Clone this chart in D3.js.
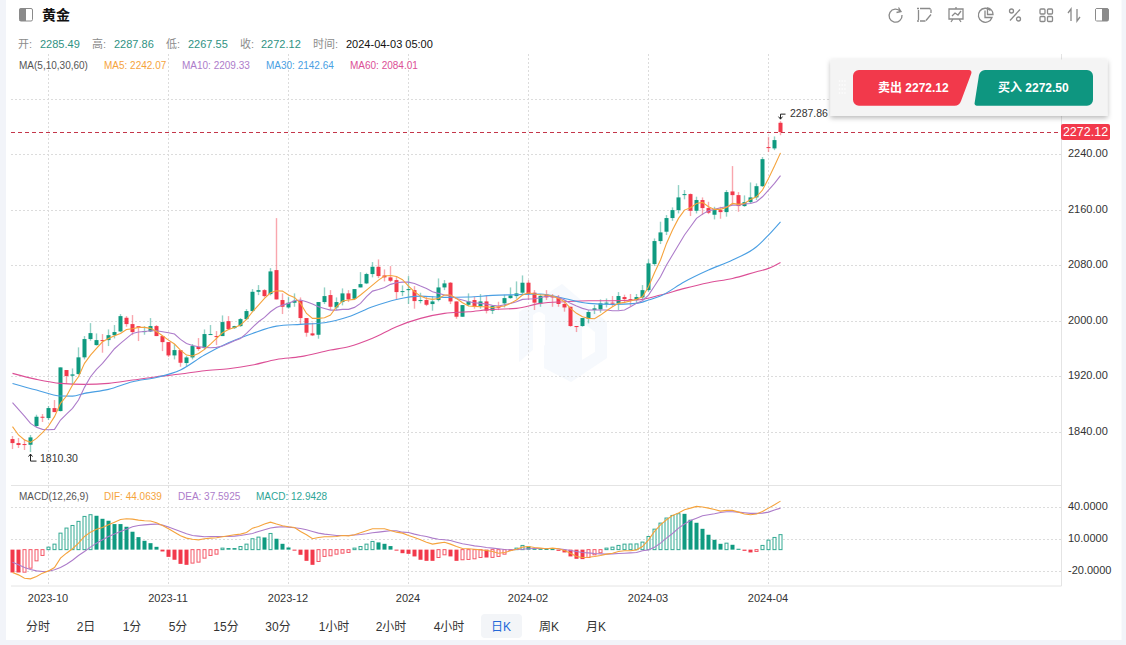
<!DOCTYPE html>
<html><head><meta charset="utf-8">
<script src="https://d3js.org/d3.v7.min.js"></script>
<style>
html,body{margin:0;padding:0;background:#f2f4f9;overflow:hidden}
svg{display:block}
text{font-family:"Liberation Sans","Noto Sans CJK SC",sans-serif}
</style></head><body><div id="chart"></div>
<script>
const candleOpen=[1829.1,1823.3,1821.9,1820.9,1847.9,1861.3,1859.4,1873.8,1869.5,1928.7,
1920.5,1922.9,1947,1973.4,1964.7,1971.9,1971.9,1979,1984.4,2004.1,
1995,1992,1983.5,1984.4,1992.1,1977.7,1969,1949.8,1957.5,1938.8,
1946.9,1962.3,1960.4,1979.6,1977.7,1977.7,1999.3,1989.2,1992.1,2002.2,
2013.8,2041.6,2044,2038.3,2072.9,2029.7,2019,2025.8,2028.7,2003.7,
1981.6,1979.6,2026.8,2036.9,2019,2026.8,2039.3,2031.6,2047.9,2053.7,
2067.2,2077.7,2065.2,2062.4,2058.5,2041.7,2044,2044,2028.2,2029.7,
2023.9,2029.7,2047.9,2054.7,2027.7,2005.6,2022.9,2029.7,2021,2027.7,
2014.3,2020,2024.9,2032.5,2035.4,2040.3,2054.7,2040.3,2024.9,2037.4,
2035.5,2033.5,2024,2020,1992.2,1992.2,2002.8,2015.3,2016.2,2024.9,
2025.9,2024.9,2034,2031,2029.7,2033.5,2044,2081.6,2114.8,2128.3,
2148,2159.5,2181.1,2182.6,2158.5,2174,2162.4,2152.8,2159.5,2156.6,
2186.4,2181.1,2165.3,2171,2177.8,2194,2250.4,2248.5,2285.49];
const candleClose=[1823.3,1820.5,1820.9,1831.5,1861.3,1859.9,1873.8,1868,1932.5,1920,
1922.4,1947,1973.4,1982,1971.9,1970.5,1979,1983.5,2006.5,1995,
1983.5,1990,1984.9,1992.1,1977.7,1969,1949.8,1957.5,1939.2,1946.9,
1963.3,1959,1980.6,1980.6,1976.7,1997.9,1987.8,1992.1,2002.2,2013.8,
2041.6,2044,2035.4,2071,2030.6,2020,2025.8,2028.7,2003.7,1982.5,
1978.7,2026.8,2035.4,2020,2026.8,2039.3,2030.6,2045.5,2052.7,2067.2,
2077.7,2064.3,2062.4,2057.5,2041.2,2042.6,2045.5,2028.2,2029.7,2022.9,
2027.7,2047.9,2053.7,2027.7,2005.6,2022.4,2027.7,2020,2027.7,2014.3,
2021,2018.6,2032.5,2036.4,2039.3,2054.7,2038.4,2025.9,2035.5,2033.5,
2033.5,2024,2019,1992.2,1990.7,2003.7,2012.4,2017.7,2024.9,2025.9,
2024.9,2035.5,2031,2029.7,2034,2044,2082.6,2114.8,2127.3,2148,
2159.5,2177.8,2182.6,2158.5,2174,2162.4,2155.7,2159.5,2156.6,2185.5,
2181.1,2165.3,2171,2177.8,2194,2233,2249,2260.5,2272.12];
const candleHigh=[1833.5,1830.6,1829.1,1834.9,1864.2,1865.2,1876.7,1885.4,1932.5,1928.7,
1931,1961.4,1977.7,1996.4,1981.5,1980.6,1987.3,1993.6,2009.4,2006.5,
2008,1992,1992,2003.7,1993.6,1977.7,1969,1966.2,1957.5,1948.9,
1966.2,1974.8,1987.3,1993.6,1984.9,2007.5,2006.5,1992.5,2003.7,2016.6,
2045.5,2051.3,2045.5,2075.8,2147.9,2039.3,2034.5,2039.3,2033.5,2003.7,
1997,2026.8,2047.9,2044,2033.5,2046.5,2044,2045.5,2070,2069,
2084.5,2088.3,2073.9,2078.7,2064.3,2050.8,2064.3,2049.8,2040.2,2035.4,
2035.4,2060.9,2058.5,2055.6,2027.7,2022.4,2039.3,2034.5,2038.3,2036.4,
2022,2027.2,2037.4,2047.9,2056.6,2065.2,2058.5,2044,2038.4,2044,
2038.4,2037,2029.7,2020,1992.2,2003.7,2015.3,2022.5,2030.7,2032,
2035.5,2041.2,2037.4,2038.4,2038.4,2051.3,2088.4,2118.6,2142.7,2152.3,
2163.4,2195.6,2188.4,2183.5,2178.8,2177.8,2171.5,2164.3,2164.3,2188.4,
2223,2185.5,2180.7,2199.4,2198,2236,2265.3,2265.8,2287.86];
const candleLow=[1814.7,1816.2,1813.3,1810.3,1846,1853.7,1856.5,1868,1869,1908.5,
1907,1922,1944,1971,1964,1953.7,1963.3,1974.3,1983.5,1991.2,
1979,1970.5,1979.6,1983.5,1977.7,1956,1947.4,1944,1933.4,1933.4,
1944,1956.5,1957.5,1979.6,1964.7,1977.7,1986.4,1988,1991,2000.8,
2012.3,2036.8,2033.5,2036.4,2030.6,2009.5,2017.2,2020,1995,1976.8,
1977.7,1973.9,2023.9,2015.2,2015.2,2022,2026.8,2029.7,2047.9,2052.7,
2062.4,2061.4,2056.6,2055.6,2030.6,2035.4,2023.9,2017.2,2024.9,2021,
2014.3,2027.7,2044,2023.9,2002.7,2005.6,2021,2017.2,2017.2,2010.4,
2009.5,2015.2,2019,2031.6,2031.6,2037.4,2029.7,2015.3,2020,2029.7,
2020,2020,2012.9,1991.2,1983.5,1991.2,1996,2009.5,2011.4,2019,
2020,2015.3,2024.9,2021,2024.9,2029.7,2041.7,2078.7,2110.5,2123.5,
2144,2154.7,2175,2150.9,2154.7,2152.3,2153.7,2146,2147,2150,
2166.7,2157,2164.3,2169,2174,2193,2243.2,2246,2267.55];
const ma5=[1847,1835,1827.7,1824.3,1830,1838.3,1847.9,1861.4,1880.6,1891.2,
1907,1919,1938.3,1950.3,1959.9,1969.5,1974.3,1978.2,1981.5,1987.3,
1988.3,1990.2,1990.2,1988.8,1984.4,1978.2,1971.9,1966.2,1957.5,1950.3,
1948.9,1952.7,1958.5,1966.2,1974.3,1982.5,1987.3,1990.2,1993.6,2001.7,
2012.8,2022.4,2032,2040.2,2043.1,2042.6,2036.9,2033.5,2024.9,2010.4,
2003.2,2003.2,2004.2,2008,2020,2028.2,2029.7,2030.6,2037,2044,
2051.3,2058.5,2064.3,2065.2,2063.8,2059,2049.8,2041.7,2035.4,2032,
2030.6,2032,2036.9,2036.9,2032,2025.8,2021,2020.5,2020,2020,
2019,2020,2021,2024.9,2029.7,2036.9,2040.2,2038.3,2036.9,2036.9,
2035.5,2032.1,2027.3,2017.7,2010.5,2005.6,2003.3,2002.8,2008,2014.3,
2020,2024.9,2026.3,2028.3,2030.7,2034.5,2048.9,2069.1,2087.4,2111.4,
2130.7,2147.5,2159.5,2162.9,2169.1,2170.6,2164.3,2160.5,2160.5,2163.4,
2169.1,2167.7,2169.1,2174.9,2178.7,2188.4,2205.2,2223,2242.07];
const ma10=[1881.5,1871.9,1862.3,1851.7,1846,1843.1,1842.6,1843.1,1856.5,1865.2,
1873.4,1885.4,1903.7,1919,1929.6,1938.3,1948.9,1959.4,1967.1,1974.3,
1981.5,1983.5,1984.4,1985.4,1985.4,1983.9,1982.5,1980.6,1972.9,1967.1,
1964.2,1962.3,1961.4,1960.9,1961.4,1963.3,1967.1,1971,1974.3,1981.5,
1990.2,1998.4,2004.6,2012.8,2019,2022.4,2024.9,2028.7,2029.7,2027.3,
2023.9,2020,2017.6,2015.2,2015.2,2016.2,2016.2,2019.1,2024.9,2034.5,
2042.6,2045,2047.9,2052.3,2054.7,2055.6,2055.6,2053.7,2049.8,2046.5,
2041.7,2039.3,2036.9,2035.9,2032,2029.7,2027.3,2025.8,2024.9,2023.9,
2022,2021,2022.9,2024.9,2027.3,2030.6,2031.1,2031.5,2033,2035.5,
2034.5,2033.5,2029.7,2024.9,2021,2017.7,2015.3,2015.3,2015.3,2015.3,
2014.3,2014.3,2015.3,2020,2024.9,2028.7,2036.9,2049.9,2063.4,2080.2,
2094.6,2109,2123.5,2135.5,2147.5,2153.7,2158.6,2160.5,2162.9,2164.3,
2166.7,2166.7,2168.2,2169.1,2171.5,2178.7,2188.4,2198,2209.33];
const ma30Idx=[0,4,8,10,12,16,20,24,28,32,36,40,44,48,52,56,60,64,68,72,76,80,84,88,92,96,100,104,106,108,112,116,120,124,126,128];
const ma30=[1909.4,1899.8,1891.2,1891,1895,1900.8,1911.8,1918,1928.7,1950.3,1968,1981.5,1992,1994.6,1997,2005.6,2020,2030.6,2035.4,2033.5,2034,2036.4,2037.4,2038.4,2032,2024.9,2023.4,2024.9,2029.7,2035.5,2056.1,2073,2087.4,2106.6,2123.5,2142.64];
const ma60Idx=[0,4,8,12,16,20,24,28,32,36,40,44,48,53,56,60,64,68,72,76,80,84,88,92,96,100,104,108,112,116,120,124,126,128];
const ma60=[1923.9,1915.2,1909.4,1908,1909.4,1914.2,1919,1922.9,1927.7,1930.6,1935.9,1944,1948,1957.5,1962.3,1974.4,1991.2,2003.2,2010.4,2012.8,2016.2,2017.6,2024.9,2027.3,2028.7,2028.7,2029.7,2036.9,2046.5,2054.7,2060.9,2070.6,2075.4,2084.01];
const macdHist=[-21.2,-21.2,-20.9,-17.2,-10.4,-5.4,2.3,5.1,15.3,20,
22.4,26.2,30.8,32.4,31.4,28.6,26.8,23.7,23.7,21.2,
16.6,11.6,8.2,6,2.6,-1.7,-6.7,-9.4,-13.2,-14.1,
-12.5,-11.6,-7.9,-5.4,-4.2,1.4,1.4,1.4,2.9,5.1,
10.1,11.6,11.3,15,10.1,5.4,2,-0.5,-4.8,-10.4,
-14.1,-11,-6.3,-5.7,-4.2,-3.3,-2.6,1.4,2.9,5.1,
7.6,6.7,5.4,3.3,-0.2,-3.3,-3.9,-6.3,-9.4,-10.4,
-10.4,-7.3,-4.8,-6.3,-10.4,-9.4,-9.1,-8.5,-7.3,-7.3,
-7.2,-6.3,-4.2,-0.8,1.4,3.9,2.9,0.8,0.8,0.7,
0.5,-1.1,-2.6,-6.3,-8.5,-8.8,-7.3,-4.8,-2.9,1.4,
2.3,3.9,5.1,5.2,5.3,7,12.2,19,24.6,29.3,
31.7,33.3,33.2,27.7,24.9,19.3,13.8,9.1,5.4,6,
4.5,0.8,-1.1,-2.6,-1.7,3.9,8.8,11.3,13.9];
const dif=[-21.2,-23.4,-26.5,-27.1,-24.9,-21.8,-19.7,-16.6,-7.9,-3.3,
0.8,6,12.2,16.2,19,20.6,23,25.5,28,28.6,
28.3,27.4,26.8,26.5,24.9,22.4,19.3,16.2,12.8,10.7,
9.7,9.1,10.1,10.7,11,11.9,12.8,13.8,14.4,15.9,
19.9,21.5,23.7,25.5,23.7,22.1,21.2,20.6,16.9,13.8,
10.1,11.3,11.9,11.9,12.2,13.1,12.8,13.8,15.6,17.5,
19.3,19.3,19.3,17.8,16.2,15.3,13.1,11.3,9.1,6.9,
5.1,6,6.9,5.1,2.9,1.1,0.8,0.4,-0.2,-0.8,
-1.7,-3.3,-2.6,-1.1,0.4,2.3,2.9,2,1.4,0.8,
1.4,0.8,-0.8,-3.3,-6.4,-7.3,-7,-6.4,-5.4,-4.2,
-3.3,-1.7,-1.1,-1.1,-0.2,2.9,9.1,16.9,23,27.7,
31.7,33.9,37,38.5,40.1,39.5,38.5,37.3,35.7,36.4,
36.4,34.8,33,32.3,33,35.4,38.5,41.6,45];
const dea=[-11.6,-14.1,-16.6,-18.4,-19.7,-20.3,-20,-18.7,-16.6,-13.5,
-9.8,-5.4,-1.7,2.3,6,9.1,12.2,14.4,16.9,19,
21.2,22.4,23,23.4,23.7,22.7,20.9,19,16.9,14.7,
13.1,12.5,11.9,12.2,12.2,12.2,12.2,12.5,13.1,14,
15,16.9,18.4,20,20.9,21.2,20.9,20.3,19.6,18.4,
16.9,15.3,14.4,13.8,13.1,13.1,13.1,13.5,14,14.7,
15.6,16.2,16.9,17.5,17.5,16.2,15.9,14.4,13.1,12.2,
10.7,9.7,9.1,8.5,6.9,5.4,4.5,3.5,2.9,2,
1.4,0.8,0.1,-0.2,0.1,0.4,0.8,1.1,1.1,1.1,
1.1,0.8,0.1,-0.8,-1.7,-2.6,-3,-3.6,-3.9,-4.2,
-3.9,-3.6,-3.3,-3,-2.6,-1.1,-0.2,2.3,6,10.7,
15,20,23.7,27,29.2,31.4,32.3,33.3,34.5,35.1,
35.1,34.8,34.2,33.6,33.6,33.9,34.8,36.7,38.5];
const priceTicks=[1840,1920,2000,2080,2160,2240];
const macdTicks=[-20,10,40];
const dateTickIdx=[6,26,46,66,86,106,126];
const dateTickLabels=["2023-10","2023-11","2023-12","2024","2024-02","2024-03","2024-04"];
const periodLabels=["分时","2日","1分","5分","15分","30分","1小时","2小时","4小时","日K","周K","月K"];
const periodCenters=[38,86,132,178,226,278,334,391,449,501,549,596];
const UP="#0f9a80",DOWN="#f2394b",C5="#f5a33c",C10="#ad7cca",C30="#4a9fe3",C60="#dc4f96",GREY="#8a8a8a";

const W=1126,H=645;
const svg=d3.select("#chart").append("svg").attr("width",W).attr("height",H);
svg.append("rect").attr("x",6).attr("y",0).attr("width",1115.5).attr("height",640).attr("fill","#fff");
const defs=svg.append("defs");
const f=defs.append("filter").attr("id","sh").attr("x","-5%").attr("y","-15%").attr("width","110%").attr("height","130%");
f.append("feDropShadow").attr("dx",0).attr("dy",2).attr("stdDeviation",2.5).attr("flood-color","#000").attr("flood-opacity",0.28);

const x=d3.scaleLinear().domain([0,128]).range([12.5,780.5]);
const y=d3.scaleLinear().domain([1840,2240]).range([431.5,154.3]);
const ym=d3.scaleLinear().domain([-20,40]).range([571.2,506.5]);
const L=11,R=1061.5;

// faint watermark
const wm=svg.append("g");
wm.append("path").attr("fill","#f6f9fd").attr("d","M519 312L562 284L607 322V358L571 382L544 368V340L519 362Z");
wm.append("path").attr("fill","#fff").attr("d","M533 315Q539 309 545 315V345L533 355ZM582 322L595 332V352L582 360Z");

// panes
const frame=svg.append("g").attr("stroke","#e4e4e4").attr("fill","none");
frame.append("path").attr("d",`M${L} 485.5H${R}M${L} 586H${R}M${R} 54V586`);
const grid=svg.append("g").attr("stroke","#dcdcdc").attr("stroke-dasharray","2,2").attr("fill","none");
grid.selectAll(".v").data(dateTickIdx).join("line").attr("x1",d=>x(d)).attr("x2",d=>x(d)).attr("y1",54).attr("y2",586);
grid.selectAll(".h").data(priceTicks.concat([2320])).join("line").attr("x1",L).attr("x2",R).attr("y1",d=>Math.round(y(d))+0.5).attr("y2",d=>Math.round(y(d))+0.5);
grid.selectAll(".m").data(macdTicks).join("line").attr("x1",L).attr("x2",R).attr("y1",d=>Math.round(ym(d))+0.5).attr("y2",d=>Math.round(ym(d))+0.5);

// axes
function styleAxis(g){g.select(".domain").remove();g.selectAll(".tick line").remove();g.selectAll("text").attr("fill","#333").attr("font-size",11);}
svg.append("g").attr("transform",`translate(1068,-1)`).call(d3.axisRight(y).tickValues(priceTicks).tickSize(0).tickPadding(0).tickFormat(d3.format(".2f"))).call(styleAxis);
svg.append("g").attr("transform",`translate(1068,-1)`).call(d3.axisRight(ym).tickValues(macdTicks).tickSize(0).tickPadding(0).tickFormat(v=>v.toFixed(4))).call(styleAxis);
svg.append("g").attr("transform",`translate(-1,590)`).call(d3.axisBottom(x).tickValues(dateTickIdx).tickSize(0).tickPadding(4).tickFormat((d,i)=>dateTickLabels[i])).call(styleAxis);

// candles
const idx=d3.range(candleOpen.length);
const cG=svg.append("g");
cG.selectAll(".w").data(idx).join("line")
 .attr("x1",d=>x(d)).attr("x2",d=>x(d))
 .attr("y1",d=>y(candleHigh[d])).attr("y2",d=>y(candleLow[d]))
 .attr("stroke",d=>candleClose[d]>=candleOpen[d]?UP:DOWN).attr("stroke-opacity",0.45).attr("stroke-width",1.4);
cG.selectAll(".b").data(idx).join("rect")
 .attr("x",d=>x(d)-2).attr("width",4)
 .attr("y",d=>Math.min(y(candleOpen[d]),y(candleClose[d])))
 .attr("height",d=>Math.max(1,Math.abs(y(candleOpen[d])-y(candleClose[d]))))
 .attr("fill",d=>candleClose[d]>=candleOpen[d]?UP:DOWN);

// moving averages
const line=(s,yy)=>d3.line().x(d=>x(d)).y(d=>yy(s[d]));
const maG=svg.append("g").attr("fill","none").attr("stroke-width",1.1);
maG.append("path").attr("d",d3.line().x((d,i)=>x(ma60Idx[i])).y(d=>y(d)).curve(d3.curveMonotoneX)(ma60)).attr("stroke",C60);
maG.append("path").attr("d",d3.line().x((d,i)=>x(ma30Idx[i])).y(d=>y(d)).curve(d3.curveMonotoneX)(ma30)).attr("stroke",C30);
maG.append("path").attr("d",line(ma10,y)(idx)).attr("stroke",C10);
maG.append("path").attr("d",line(ma5,y)(idx)).attr("stroke",C5);

// last price line
const lastY=Math.round(y(2272.12))+0.5;
svg.append("line").attr("x1",L).attr("x2",R).attr("y1",lastY).attr("y2",lastY).attr("stroke","#c4364a").attr("stroke-dasharray","4,3");
svg.append("rect").attr("x",1061).attr("y",124).attr("width",49).attr("height",16).attr("rx",2).attr("fill",DOWN);
svg.append("text").attr("x",1085.5).attr("y",136).attr("text-anchor","middle").attr("fill","#fff").attr("font-size",12.5).text("2272.12");

// high / low marks
const marks=svg.append("g").attr("fill","none").attr("stroke","#222").attr("stroke-width",1);
marks.append("path").attr("d",`M${x(3)} ${y(1810.3)+2}V${y(1810.3)+9}H${x(3)+6}M${x(3)-2} ${y(1810.3)+4.5}L${x(3)} ${y(1810.3)+2}L${x(3)+2} ${y(1810.3)+4.5}`);
marks.append("path").attr("d",`M${x(128)} ${y(2287.86)-2}V${y(2287.86)-7}H${x(128)+5}M${x(128)-2} ${y(2287.86)-4.5}L${x(128)} ${y(2287.86)-2}L${x(128)+2} ${y(2287.86)-4.5}`);
svg.append("text").attr("x",40).attr("y",461.5).attr("font-size",10.5).attr("fill","#333").text("1810.30");
svg.append("text").attr("x",790).attr("y",117).attr("font-size",10.5).attr("fill","#333").text("2287.86");

// MACD histogram
const h0=ym(0);
const hG=svg.append("g");
hG.selectAll("rect").data(idx).join("rect").each(function(d){
  const v=macdHist[d],rising=d>0&&v>macdHist[d-1],col=v>=0?UP:DOWN;
  const top=Math.min(ym(v),h0),hh=Math.abs(ym(v)-h0);
  const s=d3.select(this);
  if(rising){s.attr("x",x(d)-1.5).attr("width",3).attr("y",top).attr("height",Math.max(hh,0.5)).attr("fill","#fff").attr("stroke",col).attr("stroke-width",1).attr("stroke-opacity",0.85);}
  else{s.attr("x",x(d)-2).attr("width",4).attr("y",top).attr("height",Math.max(hh,1)).attr("fill",col);}
});
const mG=svg.append("g").attr("fill","none").attr("stroke-width",1.1);
mG.append("path").attr("d",line(dea,ym)(idx)).attr("stroke",C10);
mG.append("path").attr("d",line(dif,ym)(idx)).attr("stroke",C5);

// header
const T=(xx,yy,t,fs,col,extra)=>{const e=svg.append("text").attr("x",xx).attr("y",yy).attr("font-size",fs).attr("fill",col).text(t);if(extra)e.attr("font-weight",extra);return e;};
svg.append("rect").attr("x",19.5).attr("y",8.5).attr("width",13).attr("height",12.5).attr("rx",1.5).attr("fill","#fff").attr("stroke","#8a8a8a");
svg.append("rect").attr("x",19.5).attr("y",8.5).attr("width",6.5).attr("height",12.5).attr("fill","#8a8a8a");
T(42,20,"黄金",14,"#111","bold");
const infoLabel="#8c8c8c",infoVal="#2f9283";
[[18,"开:"],[92,"高:"],[166,"低:"],[240,"收:"],[313,"时间:"]].forEach(a=>T(a[0],48,a[1],11,infoLabel));
[[40,"2285.49"],[114,"2287.86"],[188,"2267.55"],[261,"2272.12"]].forEach(a=>T(a[0],48,a[1],11,infoVal));
T(346,48,"2024-04-03 05:00",11,"#111");
T(19,69,"MA(5,10,30,60)",10,"#555");
T(104,69,"MA5: 2242.07",10,C5);T(182,69,"MA10: 2209.33",10,C10);T(266,69,"MA30: 2142.64",10,C30);T(350,69,"MA60: 2084.01",10,C60);
T(19,500,"MACD(12,26,9)",10,"#555");
T(104,500,"DIF: 44.0639",10,C5);T(178,500,"DEA: 37.5925",10,C10);T(256,500,"MACD: 12.9428",10,"#2ea596");

// toolbar icons
const ic=svg.append("g").attr("fill","none").attr("stroke",GREY).attr("stroke-width",1.3);
ic.append("path").attr("d","M900.5 11.5A6.5 6.5 0 1 0 902 15M898.5 7.5L901 11.5L896.5 12.5");
ic.append("path").attr("d","M918.5 10V20M920 8.5H930M931 9.5V13M920 21H925.5M926 20.5L931 14.5M917 8.5h2M930 8v1.5M917 21h2");
ic.append("path").attr("d","M949 9H963V19H949ZM956 7V9M951 22L953 19M961 22L959 19M952 16L955 13L958 15L961 11");
ic.append("path").attr("d","M990.5 10.5A7 7 0 1 0 992 17.5H985V10.5");ic.append("path").attr("d","M987.5 8A6.5 6.5 0 0 1 993 14.5H987.5Z");
ic.append("path").attr("d","M1010 20.5L1020 9.5");ic.append("circle").attr("cx",1011.5).attr("cy",11).attr("r",2);ic.append("circle").attr("cx",1018.5).attr("cy",19).attr("r",2);
[[1040,9],[1047.5,9],[1040,16.5],[1047.5,16.5]].forEach(p=>ic.append("rect").attr("x",p[0]).attr("y",p[1]).attr("width",5).attr("height",5).attr("rx",1));
ic.append("path").attr("d","M1071 21V9L1068 13M1077 9V21L1080 17");
svg.append("rect").attr("x",1095.5).attr("y",8.5).attr("width",13).attr("height",12.5).attr("rx",1.5).attr("fill","#8a8a8a").attr("stroke","#8a8a8a");
svg.append("rect").attr("x",1096).attr("y",9).attr("width",6).attr("height",11.5).attr("fill","#fff");

// trade panel
svg.append("rect").attr("x",830.5).attr("y",59.5).attr("width",277).attr("height",56.5).attr("fill","#f4f4f4").attr("filter","url(#sh)");
const dots=svg.append("g").attr("fill","#fff");
[0,1,2,3].forEach(r=>[0,1,2].forEach(c=>dots.append("circle").attr("cx",839.5+c*2.7).attr("cy",81+r*4).attr("r",0.8)));
svg.append("path").attr("d","M853 76a6 6 0 0 1 6-6H969a2.5 2.5 0 0 1 2.3 3.4L961 101a7 7 0 0 1-6.5 4.8H859a6 6 0 0 1-6-6Z").attr("fill",DOWN);
svg.append("path").attr("d","M985 70H1087a6 6 0 0 1 6 6V99.8a6 6 0 0 1-6 6H977a2.5 2.5 0 0 1-2.3-3.4L979 75a7 7 0 0 1 6-5Z").attr("fill","#0e9680");
T(878,92,"卖出 2272.12",12,"#fff").attr("font-weight",600);
T(998,92,"买入 2272.50",12,"#fff").attr("font-weight",600);

// period buttons
svg.append("rect").attr("x",481).attr("y",614).attr("width",41).attr("height",24).attr("rx",4).attr("fill","#f3f5f8");
svg.append("g").selectAll("text").data(periodLabels).join("text")
 .attr("x",(d,i)=>periodCenters[i]).attr("y",630.5).attr("text-anchor","middle").attr("font-size",12)
 .attr("fill",d=>d==="日K"?"#2468d8":"#333").text(d=>d);
</script></body></html>
